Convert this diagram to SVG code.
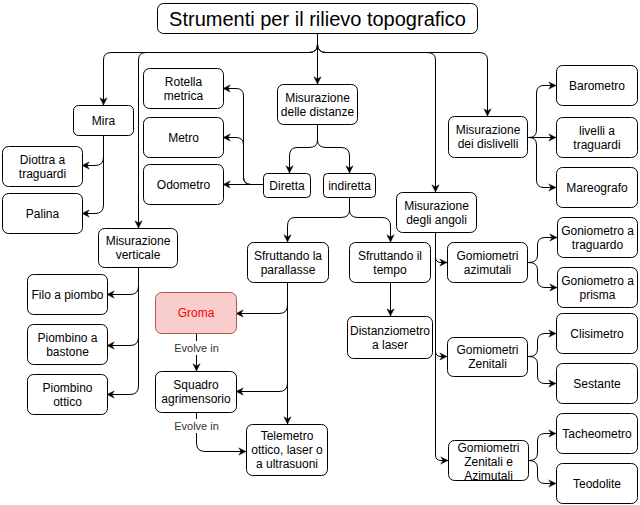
<svg xmlns="http://www.w3.org/2000/svg" width="640" height="505" viewBox="0 0 640 505">
<style>
.n rect{fill:#fff;stroke:#000;stroke-width:1}
.n text{font-family:"Liberation Sans",Arial,sans-serif;font-size:12px;fill:#000;text-anchor:middle;dominant-baseline:central}
#title text{font-size:20px}
#groma rect{fill:#f8cecc;stroke:#b85450}
#groma text{fill:#ff0000}
.e path{fill:none;stroke:#000;stroke-width:1;marker-end:url(#arr)}
.lbl{font-family:"Liberation Sans",Arial,sans-serif;font-size:11px;fill:#333;text-anchor:middle;dominant-baseline:central}
</style>
<defs>
<marker id="arr" viewBox="0 0 10 10" refX="9" refY="5" markerWidth="9" markerHeight="9" markerUnits="userSpaceOnUse" orient="auto">
<path d="M1,1 L9,5 L1,9 L3.5,5 z" fill="#000" stroke="#000" stroke-width="0.5"/>
</marker>
</defs>
<rect width="640" height="505" fill="#fff"/>
<g id="connectors" class="e">
<path d="M317.5,34 V44 Q317.5,52.5 309,52.5 H111 Q103.5,52.5 103.5,60 V105"/>
<path d="M317.5,34 V44 Q317.5,52.5 309,52.5 H146 Q138.5,52.5 138.5,60 V228"/>
<path d="M317.5,34 V84"/>
<path d="M317.5,34 V44 Q317.5,52.5 326,52.5 H427 Q435.5,52.5 435.5,60 V192"/>
<path d="M317.5,34 V44 Q317.5,52.5 326,52.5 H479 Q487.5,52.5 487.5,60 V116"/>
<path d="M103.5,135 V157 Q103.5,165.5 95,165.5 H82"/>
<path d="M103.5,135 V205 Q103.5,213.5 95,213.5 H82"/>
<path d="M317.5,124 V140 Q317.5,147.5 309,147.5 H297 Q289.5,147.5 289.5,156 V173"/>
<path d="M317.5,124 V140 Q317.5,147.5 326,147.5 H341 Q349.5,147.5 349.5,156 V173"/>
<path d="M263,184.5 H223"/>
<path d="M263,184.5 H251 Q243.5,184.5 243.5,177 V145 Q243.5,137.5 236,137.5 H223"/>
<path d="M263,184.5 H251 Q243.5,184.5 243.5,177 V96 Q243.5,88.5 236,88.5 H223"/>
<path d="M349.5,197 V210 Q349.5,217.5 341,217.5 H295 Q287.5,217.5 287.5,226 V242"/>
<path d="M349.5,197 V210 Q349.5,217.5 358,217.5 H382 Q390.5,217.5 390.5,226 V242"/>
<path d="M138.5,267 V286 Q138.5,294.5 130,294.5 H107"/>
<path d="M138.5,267 V337 Q138.5,345.5 130,345.5 H107"/>
<path d="M138.5,267 V386 Q138.5,394.5 130,394.5 H107"/>
<path d="M287.5,282 V305 Q287.5,313.5 279,313.5 H236"/>
<path d="M287.5,282 V383 Q287.5,391.5 279,391.5 H236"/>
<path d="M287.5,282 V424"/>
<path d="M196.5,333 V371"/>
<path d="M196.5,412 V443 Q196.5,451.5 205,451.5 H246"/>
<path d="M390.5,282 V316"/>
<path d="M435.5,232 V257 Q435.5,262.5 441,262.5 H447"/>
<path d="M435.5,232 V351 Q435.5,356.5 441,356.5 H447"/>
<path d="M435.5,232 V455 Q435.5,460.5 441,460.5 H448"/>
<path d="M527,137.5 H529 Q536.5,137.5 536.5,130 V93 Q536.5,85.5 544,85.5 H556"/>
<path d="M527,137.5 H556"/>
<path d="M527,137.5 H529 Q536.5,137.5 536.5,145 V180 Q536.5,187.5 544,187.5 H556"/>
<path d="M527,262.5 H529 Q537.5,262.5 537.5,255 V245 Q537.5,237.5 545,237.5 H557"/>
<path d="M527,262.5 H529 Q537.5,262.5 537.5,270 V280 Q537.5,287.5 545,287.5 H557"/>
<path d="M527,356.5 H529 Q537.5,356.5 537.5,349 V341 Q537.5,333.5 545,333.5 H556"/>
<path d="M527,356.5 H529 Q537.5,356.5 537.5,364 V376 Q537.5,383.5 545,383.5 H556"/>
<path d="M528,460.5 H529 Q537.5,460.5 537.5,453 V441 Q537.5,433.5 545,433.5 H556"/>
<path d="M528,460.5 H529 Q537.5,460.5 537.5,468 V476 Q537.5,483.5 545,483.5 H556"/>
<rect x="172" y="341" width="49" height="14" fill="#fff"/>
<text class="lbl" x="196.5" y="348">Evolve in</text>
<rect x="172" y="419" width="49" height="14" fill="#fff"/>
<text class="lbl" x="196.5" y="426">Evolve in</text>
</g>
<g id="title" class="n"><rect x="157.5" y="3.5" width="320" height="30" rx="6"/><text x="317.5" y="19">Strumenti per il rilievo topografico</text></g>
<g id="rotella" class="n"><rect x="143.5" y="68.5" width="80" height="40" rx="6"/><text x="183.5" y="81.5">Rotella</text><text x="183.5" y="95.5">metrica</text></g>
<g id="distanze" class="n"><rect x="277.5" y="84.5" width="80" height="40" rx="6"/><text x="317.5" y="97.5">Misurazione</text><text x="317.5" y="111.5">delle distanze</text></g>
<g id="mira" class="n"><rect x="73.5" y="105.5" width="60" height="30" rx="5"/><text x="103.5" y="120.5">Mira</text></g>
<g id="metro" class="n"><rect x="143.5" y="117.5" width="80" height="40" rx="6"/><text x="183.5" y="137.5">Metro</text></g>
<g id="diottra" class="n"><rect x="2.5" y="146.5" width="80" height="40" rx="6"/><text x="42.5" y="159.5">Diottra a</text><text x="42.5" y="173.5">traguardi</text></g>
<g id="odometro" class="n"><rect x="143.5" y="164.5" width="80" height="40" rx="6"/><text x="183.5" y="184.5">Odometro</text></g>
<g id="diretta" class="n"><rect x="263.5" y="173.5" width="47" height="24" rx="4"/><text x="287" y="185.5">Diretta</text></g>
<g id="indiretta" class="n"><rect x="323.5" y="173.5" width="52" height="24" rx="4"/><text x="349.5" y="185.5">indiretta</text></g>
<g id="palina" class="n"><rect x="2.5" y="193.5" width="80" height="40" rx="6"/><text x="42.5" y="213.5">Palina</text></g>
<g id="verticale" class="n"><rect x="98.5" y="228.5" width="79" height="39" rx="6"/><text x="138" y="241">Misurazione</text><text x="138" y="255">verticale</text></g>
<g id="parallasse" class="n"><rect x="247.5" y="242.5" width="81" height="40" rx="6"/><text x="288" y="255.5">Sfruttando la</text><text x="288" y="269.5">parallasse</text></g>
<g id="tempo" class="n"><rect x="349.5" y="242.5" width="81" height="40" rx="6"/><text x="390" y="255.5">Sfruttando il</text><text x="390" y="269.5">tempo</text></g>
<g id="angoli" class="n"><rect x="396.5" y="192.5" width="80" height="40" rx="6"/><text x="436.5" y="205.5">Misurazione</text><text x="436.5" y="219.5">degli angoli</text></g>
<g id="dislivelli" class="n"><rect x="448.5" y="116.5" width="79" height="41" rx="6"/><text x="488" y="130">Misurazione</text><text x="488" y="144">dei dislivelli</text></g>
<g id="barometro" class="n"><rect x="556.5" y="65.5" width="81" height="40" rx="6"/><text x="597" y="85.5">Barometro</text></g>
<g id="livelli" class="n"><rect x="556.5" y="117.5" width="81" height="40" rx="6"/><text x="597" y="130.5">livelli a</text><text x="597" y="144.5">traguardi</text></g>
<g id="mareografo" class="n"><rect x="556.5" y="167.5" width="81" height="40" rx="6"/><text x="597" y="187.5">Mareografo</text></g>
<g id="gtraguardo" class="n"><rect x="557.5" y="217.5" width="80" height="40" rx="6"/><text x="597.5" y="230.5">Goniometro a</text><text x="597.5" y="244.5">traguardo</text></g>
<g id="gprisma" class="n"><rect x="557.5" y="267.5" width="80" height="40" rx="6"/><text x="597.5" y="280.5">Goniometro a</text><text x="597.5" y="294.5">prisma</text></g>
<g id="azimutali" class="n"><rect x="447.5" y="242.5" width="80" height="40" rx="6"/><text x="487.5" y="255.5">Gomiometri</text><text x="487.5" y="269.5">azimutali</text></g>
<g id="filo" class="n"><rect x="27.5" y="274.5" width="80" height="40" rx="6"/><text x="67.5" y="294.5">Filo a piombo</text></g>
<g id="groma" class="n"><rect x="155.5" y="292.5" width="81" height="41" rx="6"/><text x="196" y="313">Groma</text></g>
<g id="distanziometro" class="n"><rect x="347.5" y="316.5" width="85" height="42" rx="6"/><text x="390" y="330.5">Distanziometro</text><text x="390" y="344.5">a laser</text></g>
<g id="zenitali" class="n"><rect x="447.5" y="337.5" width="80" height="39" rx="6"/><text x="487.5" y="350">Gomiometri</text><text x="487.5" y="364">Zenitali</text></g>
<g id="clisimetro" class="n"><rect x="556.5" y="313.5" width="81" height="40" rx="6"/><text x="597" y="333.5">Clisimetro</text></g>
<g id="bastone" class="n"><rect x="27.5" y="324.5" width="80" height="40" rx="6"/><text x="67.5" y="337.5">Piombino a</text><text x="67.5" y="351.5">bastone</text></g>
<g id="ottico" class="n"><rect x="27.5" y="374.5" width="80" height="40" rx="6"/><text x="67.5" y="387.5">Piombino</text><text x="67.5" y="401.5">ottico</text></g>
<g id="squadro" class="n"><rect x="155.5" y="371.5" width="81" height="41" rx="6"/><text x="196" y="385">Squadro</text><text x="196" y="399">agrimensorio</text></g>
<g id="sestante" class="n"><rect x="556.5" y="363.5" width="81" height="40" rx="6"/><text x="597" y="383.5">Sestante</text></g>
<g id="telemetro" class="n"><rect x="246.5" y="424.5" width="81" height="51" rx="6"/><text x="287" y="436">Telemetro</text><text x="287" y="450">ottico, laser o</text><text x="287" y="464">a ultrasuoni</text></g>
<g id="za" class="n"><rect x="448.5" y="440.5" width="80" height="40" rx="6"/><text x="488.5" y="448">Gomiometri</text><text x="488.5" y="462">Zenitali e</text><text x="488.5" y="476">Azimutali</text></g>
<g id="tacheometro" class="n"><rect x="556.5" y="413.5" width="81" height="40" rx="6"/><text x="597" y="433.5">Tacheometro</text></g>
<g id="teodolite" class="n"><rect x="556.5" y="463.5" width="81" height="40" rx="6"/><text x="597" y="483.5">Teodolite</text></g>
</svg>
